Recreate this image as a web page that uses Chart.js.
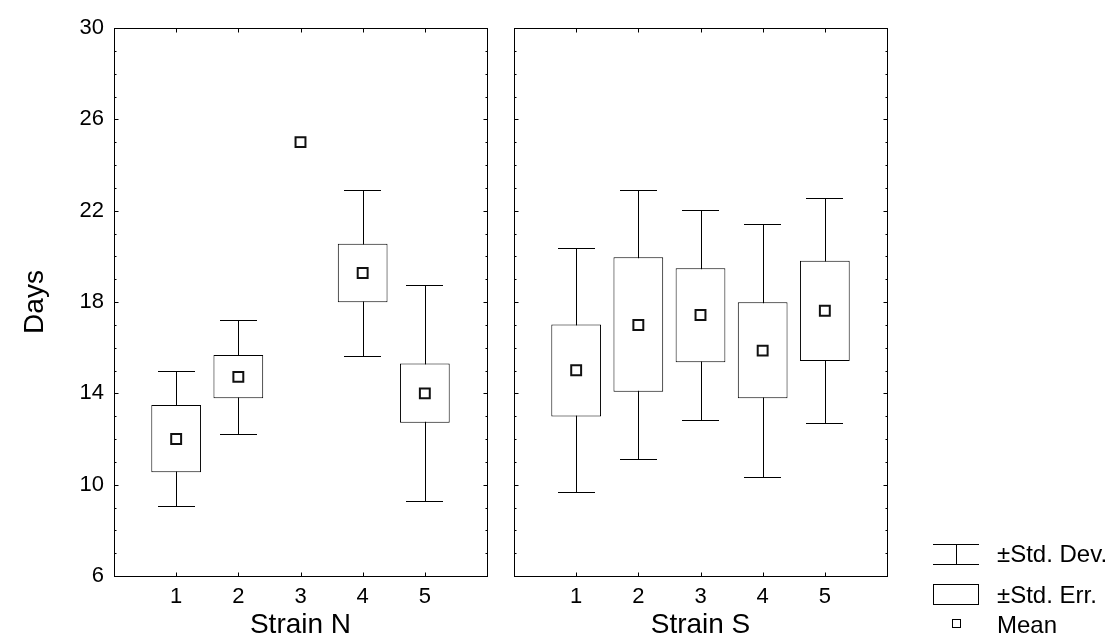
<!DOCTYPE html>
<html>
<head>
<meta charset="utf-8">
<script src="https://cdn.jsdelivr.net/npm/chart.js@4.4.0/dist/chart.umd.min.js"></script>
<style>
  html, body { margin: 0; padding: 0; background: #fff; }
  #wrap { position: relative; width: 1120px; height: 642px; }
  #wrap canvas { position: absolute; left: 0; top: 0; }
</style>
</head>
<body>
<div id="wrap">
  <canvas id="strainN" width="1120" height="642"></canvas>
  <canvas id="strainS" width="1120" height="642"></canvas>
</div>
<script>
const categories = [1, 2, 3, 4, 5];
const yTicks = [6, 10, 14, 18, 22, 26, 30];

// Strain N
const meanN   = [12.0, 14.72, 25.0, 19.27, 14.0];
const seLowN  = [10.54, 13.78, null, 17.99, 12.71];
const seHighN = [13.49, 15.68, null, 20.55, 15.31];
const sdLowN  = [9.07, 12.23, null, 15.65, 9.27];
const sdHighN = [14.97, 17.23, null, 22.89, 18.74];

// Strain S
const meanS   = [15.01, 16.99, 17.43, 15.87, 17.62];
const seLowS  = [12.98, 14.07, 15.36, 13.78, 15.42];
const seHighS = [17.02, 19.96, 19.48, 17.99, 19.81];
const sdLowS  = [9.67, 11.12, 12.82, 10.35, 12.69];
const sdHighS = [20.38, 22.91, 22.03, 21.43, 22.56];

const FONT = 'Arial, "Liberation Sans", sans-serif';

// whiskers under the boxes, frame + inward ticks on top
const panelPlugin = {
  id: 'panel',
  beforeDatasetsDraw(chart, args, opts) {
    const x = chart.scales.x, y = chart.scales.y, ctx = chart.ctx;
    ctx.save();
    ctx.strokeStyle = '#000';
    ctx.lineWidth = 1;
    categories.forEach((c, i) => {
      if (opts.sdLow[i] == null) return;
      const px = Math.round(x.getPixelForValue(c)) + 0.5;
      const cl = Math.round(x.getPixelForValue(c - 0.3));
      const cr = Math.round(x.getPixelForValue(c + 0.3));
      const yLo = Math.round(y.getPixelForValue(opts.sdLow[i])) + 0.5;
      const yHi = Math.round(y.getPixelForValue(opts.sdHigh[i])) + 0.5;
      ctx.beginPath();
      ctx.moveTo(px, yLo); ctx.lineTo(px, yHi);
      ctx.moveTo(cl, yLo); ctx.lineTo(cr, yLo);
      ctx.moveTo(cl, yHi); ctx.lineTo(cr, yHi);
      ctx.stroke();
    });
    ctx.restore();
  },
  afterDraw(chart) {
    const x = chart.scales.x, y = chart.scales.y, ctx = chart.ctx;
    const a = chart.chartArea;
    const l = Math.round(a.left) + 0.5, r = Math.round(a.right) + 0.5;
    const t = Math.round(a.top) + 0.5, b = Math.round(a.bottom) + 0.5;
    ctx.save();
    ctx.strokeStyle = '#000';
    ctx.lineWidth = 1;
    ctx.strokeRect(l, t, r - l, b - t);
    ctx.beginPath();
    for (let v = y.min; v <= y.max; v++) {
      const py = Math.round(y.getPixelForValue(v)) + 0.5;
      const len = yTicks.includes(v) ? 4 : 2;
      ctx.moveTo(l, py); ctx.lineTo(l + len, py);
      ctx.moveTo(r, py); ctx.lineTo(r - len, py);
    }
    categories.forEach(c => {
      const px = Math.round(x.getPixelForValue(c)) + 0.5;
      ctx.moveTo(px, b); ctx.lineTo(px, b - 4);
      ctx.moveTo(px, t); ctx.lineTo(px, t + 4);
    });
    ctx.stroke();
    ctx.restore();
  }
};

const legendPlugin = {
  id: 'sideLegend',
  afterDraw(chart) {
    const ctx = chart.ctx;
    ctx.save();
    ctx.strokeStyle = '#000';
    ctx.lineWidth = 1;
    ctx.beginPath();
    ctx.moveTo(933, 544.5); ctx.lineTo(979, 544.5);
    ctx.moveTo(933, 564.5); ctx.lineTo(979, 564.5);
    ctx.moveTo(956.5, 544.5); ctx.lineTo(956.5, 564.5);
    ctx.stroke();
    ctx.strokeRect(933.5, 584.5, 45, 20);
    ctx.strokeRect(952.5, 619.5, 8, 8);
    ctx.fillStyle = '#000';
    ctx.font = '24px ' + FONT;
    ctx.textBaseline = 'middle';
    ctx.textAlign = 'left';
    ctx.fillText('±Std. Dev.', 997, 555);
    ctx.fillText('±Std. Err.', 997, 596);
    ctx.fillText('Mean', 997, 626);
    ctx.restore();
  }
};

function boxData(lo, hi) {
  return categories
    .map((c, i) => (lo[i] == null ? null : { x: c, y: [lo[i], hi[i]] }))
    .filter(Boolean);
}

function meanData(mean) {
  return categories.map((c, i) => ({ x: c, y: mean[i] }));
}

function makePanel(id, title, showY, padding, mean, seLow, seHigh, sdLow, sdHigh, extraPlugins) {
  return new Chart(document.getElementById(id), {
    type: 'bar',
    data: {
      datasets: [
        {
          type: 'scatter',
          data: meanData(mean),
          pointStyle: 'rect',
          pointRadius: 7,
          pointBackgroundColor: '#fff',
          pointBorderColor: '#111',
          pointBorderWidth: 2,
          order: 0
        },
        {
          type: 'bar',
          data: boxData(seLow, seHigh),
          backgroundColor: '#fff',
          borderColor: '#000',
          borderWidth: 1,
          borderSkipped: false,
          barPercentage: 0.8,
          categoryPercentage: 1,
          order: 1
        }
      ]
    },
    options: {
      responsive: false,
      animation: false,
      devicePixelRatio: 1,
      layout: { padding: padding },
      plugins: {
        legend: { display: false },
        tooltip: { enabled: false },
        panel: { sdLow: sdLow, sdHigh: sdHigh }
      },
      scales: {
        x: {
          type: 'linear',
          min: 0,
          max: 6,
          offset: false,
          grid: { display: false, drawTicks: false, offset: false },
          border: { display: false },
          ticks: {
            stepSize: 1,
            autoSkip: false,
            maxRotation: 0,
            padding: 8,
            color: '#000',
            font: { family: FONT, size: 22 },
            callback: v => (categories.includes(v) ? String(v) : '')
          },
          title: {
            display: true,
            text: title,
            color: '#000',
            font: { family: FONT, size: 28 },
            padding: { top: 0, bottom: 0 }
          },
          afterFit: s => { s.height = 66; }
        },
        y: {
          display: showY,
          min: 6,
          max: 30,
          grid: { display: false, drawTicks: false },
          border: { display: false },
          ticks: {
            stepSize: 4,
            autoSkip: false,
            padding: 10,
            color: '#000',
            font: { family: FONT, size: 22 }
          },
          title: {
            display: true,
            text: 'Days',
            color: '#000',
            font: { family: FONT, size: 28 },
            padding: { top: 18, bottom: 0 }
          },
          afterFit: s => { s.width = showY ? 114 : 0; }
        }
      }
    },
    plugins: [panelPlugin].concat(extraPlugins)
  });
}

makePanel('strainN', 'Strain N', true, { left: 0, right: 633, top: 28, bottom: 0 },
  meanN, seLowN, seHighN, sdLowN, sdHighN, []);
makePanel('strainS', 'Strain S', false, { left: 514, right: 233, top: 28, bottom: 0 },
  meanS, seLowS, seHighS, sdLowS, sdHighS, [legendPlugin]);
</script>
</body>
</html>
